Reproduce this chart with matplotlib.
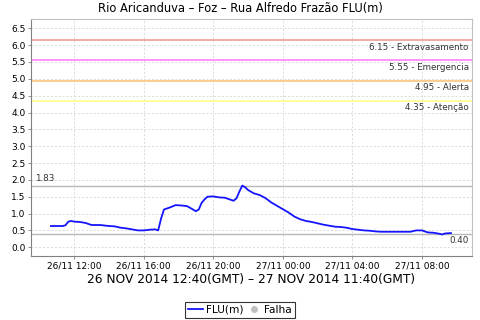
import matplotlib
matplotlib.use("Agg")
import matplotlib.pyplot as plt
import matplotlib.dates as mdates
from matplotlib.lines import Line2D
import pandas as pd

# local time readings (GMT-2), 26/11 10:40 -> 27/11 09:40
times = [
    "2014-11-26 10:40", "2014-11-26 11:00", "2014-11-26 11:20", "2014-11-26 11:30",
    "2014-11-26 11:40", "2014-11-26 11:50", "2014-11-26 12:00", "2014-11-26 12:20",
    "2014-11-26 12:40", "2014-11-26 13:00", "2014-11-26 13:30", "2014-11-26 14:00",
    "2014-11-26 14:20", "2014-11-26 14:40", "2014-11-26 15:00", "2014-11-26 15:20",
    "2014-11-26 15:40", "2014-11-26 16:00", "2014-11-26 16:20", "2014-11-26 16:40",
    "2014-11-26 16:50", "2014-11-26 17:00", "2014-11-26 17:10", "2014-11-26 17:30",
    "2014-11-26 17:50", "2014-11-26 18:10", "2014-11-26 18:30", "2014-11-26 18:50",
    "2014-11-26 19:00", "2014-11-26 19:10", "2014-11-26 19:20", "2014-11-26 19:30",
    "2014-11-26 19:40", "2014-11-26 20:00", "2014-11-26 20:20", "2014-11-26 20:40",
    "2014-11-26 21:00", "2014-11-26 21:10", "2014-11-26 21:20", "2014-11-26 21:30",
    "2014-11-26 21:40", "2014-11-26 21:50", "2014-11-26 22:00", "2014-11-26 22:20",
    "2014-11-26 22:40", "2014-11-26 23:00", "2014-11-26 23:20", "2014-11-26 23:40",
    "2014-11-27 00:00", "2014-11-27 00:20", "2014-11-27 00:40", "2014-11-27 01:00",
    "2014-11-27 01:20", "2014-11-27 01:40", "2014-11-27 02:00", "2014-11-27 02:20",
    "2014-11-27 02:40", "2014-11-27 03:00", "2014-11-27 03:20", "2014-11-27 03:40",
    "2014-11-27 04:00", "2014-11-27 04:20", "2014-11-27 04:40", "2014-11-27 05:00",
    "2014-11-27 05:20", "2014-11-27 05:40", "2014-11-27 06:00", "2014-11-27 06:40",
    "2014-11-27 07:20", "2014-11-27 07:40", "2014-11-27 08:00", "2014-11-27 08:20",
    "2014-11-27 08:40", "2014-11-27 09:00", "2014-11-27 09:10", "2014-11-27 09:20",
    "2014-11-27 09:40",
]
flu = [
    0.63, 0.63, 0.63, 0.65, 0.76, 0.78, 0.76, 0.75, 0.72, 0.66, 0.66, 0.63,
    0.62, 0.58, 0.56, 0.53, 0.50, 0.50, 0.52, 0.53, 0.50, 0.85, 1.12, 1.18,
    1.25, 1.24, 1.22, 1.12, 1.07, 1.12, 1.32, 1.42, 1.50, 1.51, 1.48, 1.47,
    1.41, 1.38, 1.45, 1.65, 1.83, 1.78, 1.70, 1.60, 1.55, 1.46, 1.33, 1.23,
    1.13, 1.03, 0.91, 0.83, 0.78, 0.75, 0.71, 0.67, 0.64, 0.61, 0.60, 0.58,
    0.54, 0.52, 0.50, 0.49, 0.47, 0.46, 0.46, 0.46, 0.46, 0.50, 0.50, 0.44,
    0.43, 0.40, 0.38, 0.41, 0.42,
]

levels = [6.15, 5.55, 4.95, 4.35]
level_names = ["Extravasamento", "Emergencia", "Alerta", "Atenção"]
level_colors = ["#f49a9a", "#ff80ff", "#ffc47f", "#ffff88"]
max_val = 1.83
min_val = 0.40

t = pd.to_datetime(times)

fig = plt.figure(figsize=(4.8, 3.2), dpi=100)
ax = fig.add_axes([0.065, 0.2, 0.918, 0.74])

for lv, nm, c in zip(levels, level_names, level_colors):
    ax.axhline(lv, color=c, lw=1.2, zorder=2)
    ax.text(0.993, lv - 0.08, f"{lv:.2f} - {nm}", transform=ax.get_yaxis_transform(),
            ha="right", va="top", fontsize=6.3, color="#333333")

ax.axhline(max_val, color="#b8b8b8", lw=1.0, zorder=2)
ax.axhline(min_val, color="#b8b8b8", lw=1.0, zorder=2)
ax.text(0.008, max_val + 0.08, f"{max_val:.2f}", transform=ax.get_yaxis_transform(),
        ha="left", va="bottom", fontsize=6.3, color="#333333")
ax.text(0.993, min_val - 0.08, f"{min_val:.2f}", transform=ax.get_yaxis_transform(),
        ha="right", va="top", fontsize=6.3, color="#333333")

ax.plot(t, flu, color="#1414ff", lw=1.3, zorder=3)

ax.set_xlim(pd.Timestamp("2014-11-26 09:32"), pd.Timestamp("2014-11-27 10:52"))
ax.set_ylim(-0.26, 6.77)
ax.set_yticks([i * 0.5 for i in range(14)])
ax.yaxis.set_major_formatter(plt.FuncFormatter(lambda v, p: f"{v:.1f}"))
ax.xaxis.set_major_locator(mdates.HourLocator(byhour=[0, 4, 8, 12, 16, 20]))
ax.xaxis.set_major_formatter(mdates.DateFormatter("%d/%m %H:%M"))

ax.grid(True, color="#dadada", ls=(0, (2, 2)), lw=0.7)
ax.tick_params(axis="both", labelsize=6.5, length=2, width=0.6, color="#808080", pad=2)
for side in ["top", "right"]:
    ax.spines[side].set_color("#c0c0c0")
for side in ["left", "bottom"]:
    ax.spines[side].set_color("#808080")
for sp in ax.spines.values():
    sp.set_linewidth(0.8)

fig.text(0.5, 0.972, "Rio Aricanduva – Foz – Rua Alfredo Frazão FLU(m)", fontsize=8.3,
         ha="center", va="center")
ax.set_xlabel("26 NOV 2014 12:40(GMT) – 27 NOV 2014 11:40(GMT)", fontsize=8.8, labelpad=2)

handles = [Line2D([], [], color="#1414ff", lw=1.3),
           Line2D([], [], color="#c0c0c0", marker="o", ls="", ms=4)]
leg = fig.legend(handles, ["FLU(m)", "Falha"], loc="lower center", bbox_to_anchor=(0.5, 0.0),
                 ncol=2, fontsize=7.6, frameon=True, fancybox=False, handlelength=1.4,
                 handletextpad=0.3, columnspacing=0.3, borderpad=0.3, borderaxespad=0.2)
leg.get_frame().set_edgecolor("black")
leg.get_frame().set_linewidth(0.8)

fig.savefig("out.png", dpi=100)
